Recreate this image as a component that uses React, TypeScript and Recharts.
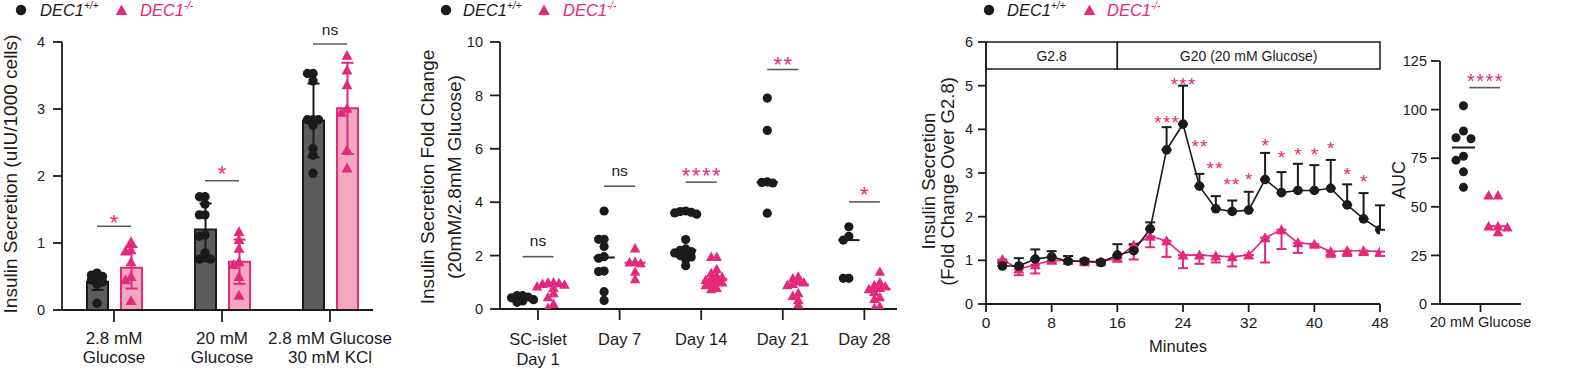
import React from 'react';
import {
  ComposedChart, Bar, Scatter, Line, XAxis, YAxis, ErrorBar,
  ReferenceLine, ReferenceDot, ReferenceArea,
} from 'recharts';

const INK = '#1b1b1b';
const PINK = '#E4287C';
const PINK_FILL = '#F4A8C0';
const GREY_FILL = '#5E5C5A';
const SIG = '#5c5c5c';
const FONT = '"Liberation Sans", Arial, Helvetica, sans-serif';

// ---------------- Panel A ----------------
const aCategories = ['2.8 mM|Glucose', '20 mM|Glucose', '2.8 mM Glucose|30 mM KCl'];
const aWtMean = [0.42, 1.2, 2.83];
const aWtSd = [0.12, 0.39, 0.55];
const aKoMean = [0.63, 0.72, 3.01];
const aKoSd = [0.31, 0.33, 0.68];
const aWtPoints = [
  [0.55, 0.52, 0.5, 0.48, 0.45, 0.42, 0.38, 0.1],
  [1.69, 1.69, 1.58, 1.42, 1.42, 1.12, 1.1, 0.85, 0.78, 0.76, 0.76],
  [3.53, 3.53, 3.42, 2.84, 2.84, 2.84, 2.76, 2.41, 2.31, 2.04],
];
const aKoPoints = [
  [1.02, 0.9, 0.88, 0.72, 0.5, 0.45, 0.14],
  [1.17, 1.05, 0.92, 0.72, 0.68, 0.5, 0.22],
  [3.8, 3.58, 3.36, 3.01, 2.95, 2.39, 2.12],
];
const aSigLevel = [1.25, 1.93, 3.97];
const aSigTextY = [1.39, 2.11, 4.2];
const aSigLabel = ['*', '*', 'ns'];
const aYTicks = [0, 1, 2, 3, 4];

// ---------------- Panel B ----------------
const bCategories = ['SC-islet|Day 1', 'Day 7', 'Day 14', 'Day 21', 'Day 28'];
const bWtPoints = [
  [0.5, 0.5, 0.45, 0.42, 0.35, 0.3, 0.25],
  [3.67, 2.61, 2.61, 2.34, 1.96, 1.9, 1.42, 1.4, 0.65, 0.32],
  [3.67, 3.65, 3.62, 3.6, 3.55, 2.6, 2.25, 2.2, 2.15, 2.1, 2.05, 2.0, 1.95, 1.85, 1.62],
  [7.9, 6.69, 4.76, 4.74, 4.72, 3.59],
  [3.08, 2.72, 2.58, 1.15, 1.15],
];
const bKoPoints = [
  [1.0, 1.0, 0.98, 0.95, 0.92, 0.85, 0.8, 0.6, 0.45, 0.2, 0.05],
  [2.28, 1.77, 1.75, 1.72, 1.4, 1.12],
  [1.96, 1.96, 1.5, 1.35, 1.25, 1.2, 1.15, 1.1, 1.05, 1.0, 0.95, 0.9, 0.8, 0.75],
  [1.22, 1.15, 1.05, 1.0, 0.95, 0.9, 0.6, 0.5, 0.35, 0.18],
  [1.4, 1.0, 0.9, 0.85, 0.8, 0.75, 0.65, 0.45, 0.38, 0.1, 0.05],
];
const bSigLevel = [1.96, 4.6, 4.75, 8.97, 4.01];
const bSigTextY = [2.59, 5.21, 5.19, 9.34, 4.5];
const bSigLabel = ['ns', 'ns', '****', '**', '*'];
const bYTicks = [0, 2, 4, 6, 8, 10];

// ---------------- Panel C ----------------
const cMinutes = [2, 4, 6, 8, 10, 12, 14, 16, 18, 20, 22, 24, 26, 28, 30, 32, 34, 36, 38, 40, 42, 44, 46, 48];
const cWtMean = [0.87, 0.87, 1.03, 1.08, 0.98, 0.98, 0.95, 1.12, 1.22, 1.72, 3.53, 4.12, 2.7, 2.18, 2.12, 2.15, 2.85, 2.55, 2.6, 2.6, 2.65, 2.27, 1.95, 1.7];
const cWtSem = [0.1, 0.18, 0.22, 0.13, 0.12, 0.05, 0.06, 0.25, 0.15, 0.15, 0.52, 0.88, 0.28, 0.29, 0.25, 0.42, 0.61, 0.47, 0.61, 0.58, 0.65, 0.47, 0.59, 0.56];
const cKoMean = [1.02, 0.8, 0.9, 1.0, 1.0, 0.97, 0.97, 1.05, 1.35, 1.55, 1.45, 1.12, 1.12, 1.1, 1.08, 1.12, 1.52, 1.7, 1.4, 1.37, 1.2, 1.22, 1.22, 1.2];
const cKoSem = [0.05, 0.14, 0.2, 0.05, 0.08, 0.05, 0.05, 0.07, 0.33, 0.25, 0.37, 0.3, 0.2, 0.15, 0.22, 0.0, 0.57, 0.44, 0.23, 0.05, 0.12, 0.12, 0.1, 0.1];
const cSigMinute = [22, 24, 26, 27.85, 29.9, 32, 34, 36, 38, 40, 42, 44, 46];
const cSigY = [4.26, 5.14, 3.7, 3.21, 2.85, 2.95, 3.74, 3.46, 3.52, 3.52, 3.67, 3.06, 2.92];
const cSigLabel = ['***', '***', '**', '**', '**', '*', '*', '*', '*', '*', '*', '*', '*'];
const cPhaseLabels = ['G2.8', 'G20 (20 mM Glucose)'];
const cPhaseStart = [0, 16];
const cPhaseEnd = [16, 48];
const cPhaseBottom = 5.38;
const cXTicks = [0, 8, 16, 24, 32, 40, 48];
const cYTicks = [0, 1, 2, 3, 4, 5, 6];

// ---------------- Panel D ----------------
const dCategory = '20 mM Glucose';
const dWt = [102, 89, 85.5, 85, 76, 74, 68, 60];
const dKo = [56, 56, 40, 40, 39.5, 37];
const dSigLevel = 111.3;
const dSigTextY = 117.3;
const dSigLabel = '****';
const dYTicks = [0, 25, 50, 75, 100, 125];

// ---------------- helpers ----------------
function swarm(values: number[], pxPerVal: number, minDist: number, step: number): number[] {
  const placed: { y: number; o: number }[] = [];
  return values.map((v) => {
    const y = v * pxPerVal;
    let chosen = 0;
    for (let k = 0; k < 40; k++) {
      const m = Math.ceil(k / 2);
      const cand = (k % 2 === 1 ? -m : m) * step;
      if (placed.every((p) => Math.hypot(p.o - cand, p.y - y) >= minDist)) {
        chosen = cand;
        break;
      }
    }
    placed.push({ y, o: chosen });
    return chosen;
  });
}

function median(vs: number[]) {
  const s = [...vs].sort((a, b) => a - b);
  const n = s.length;
  return n % 2 ? s[(n - 1) / 2] : (s[n / 2 - 1] + s[n / 2]) / 2;
}

function groupPoints(groups: number[][], groupOffset: number, pxPerVal: number, pxPerUnitX: number, minDist: number, step: number) {
  return groups.flatMap((vals, i) =>
    swarm(vals, pxPerVal, minDist, step).map((o, j) => ({ x: i + 0.5 + groupOffset + o / pxPerUnitX, y: vals[j] }))
  );
}

const dotShape = (r: number) => (p: any) => <circle cx={p.cx} cy={p.cy} r={r} fill={INK} />;
const triShape = (w: number) => (p: any) => {
  const h = w * 0.9;
  return (
    <polygon
      points={`${p.cx},${p.cy - h * 0.55} ${p.cx - w / 2},${p.cy + h * 0.45} ${p.cx + w / 2},${p.cy + h * 0.45}`}
      fill={PINK}
    />
  );
};

const sigText = (label: string, fs: number, starSpacing = 2.5) => (p: any) => {
  const star = label.includes('*');
  const ls = star ? starSpacing : 0;
  return (
    <text
      x={p.cx + ls / 2}
      y={p.cy + (star ? 0.58 : 0.27) * fs}
      textAnchor="middle"
      fontSize={star ? fs : 15.5}
      fill={star ? PINK : INK}
      letterSpacing={ls}
    >
      {label}
    </text>
  );
};

const makeCatTick = (getLabel: (v: any) => string, fs: number, first: number, gap: number) => (p: any) => {
  const lines = getLabel(p.payload.value).split('|');
  return (
    <text x={p.x} y={p.y} textAnchor="middle" fontSize={fs} fill={INK}>
      {lines.map((l, i) => (
        <tspan key={i} x={p.x} y={p.y + first + i * gap}>{l}</tspan>
      ))}
    </text>
  );
};

const axisStyle = { stroke: INK, strokeWidth: 1.8 };
const yTick = { fontSize: 14.5, fill: INK };

// ---------------- Panels ----------------
function PanelA() {
  const data = aCategories.map((name, i) => ({ name, wt: aWtMean[i], wtErr: aWtSd[i], ko: aKoMean[i], koErr: aKoSd[i] }));
  const pxPerUnitX = 108;
  const pxPerVal = 67;
  const off = 17 / 108;
  const wtPts = groupPoints(aWtPoints, -off, pxPerVal, pxPerUnitX, 4.5, 5.5);
  const koPts = groupPoints(aKoPoints, off, pxPerVal, pxPerUnitX, 4.5, 5.5);
  const pad = { left: -2, right: -11 };
  return (
    <ComposedChart width={400} height={370} data={data} margin={{ top: 42, right: 27, bottom: 0, left: 22 }} barSize={21} barGap={13}>
      <XAxis xAxisId="cat" dataKey="name" type="category" padding={pad} height={60} interval={0} tickSize={12} tickMargin={0}
        tick={makeCatTick((v) => String(v), 17, 21.7, 19.3)} axisLine={axisStyle} tickLine={axisStyle} />
      <XAxis xAxisId="num" dataKey="x" type="number" domain={[0, 3]} padding={pad} hide allowDataOverflow />
      <YAxis dataKey="y" type="number" domain={[0, 4]} ticks={aYTicks} allowDataOverflow width={40} tickSize={9} tickMargin={8}
        tick={yTick} axisLine={axisStyle} tickLine={axisStyle} />
      <Bar xAxisId="cat" dataKey="wt" fill={GREY_FILL} stroke={INK} strokeWidth={2} isAnimationActive={false}>
        <ErrorBar dataKey="wtErr" width={6} stroke={INK} strokeWidth={2} direction="y" />
      </Bar>
      <Bar xAxisId="cat" dataKey="ko" fill={PINK_FILL} stroke={PINK} strokeWidth={2} isAnimationActive={false}>
        <ErrorBar dataKey="koErr" width={6} stroke={PINK} strokeWidth={2} direction="y" />
      </Bar>
      <Scatter xAxisId="num" data={wtPts} dataKey="y" shape={dotShape(4.7)} isAnimationActive={false} />
      <Scatter xAxisId="num" data={koPts} dataKey="y" shape={triShape(11)} isAnimationActive={false} />
      {aSigLevel.map((lv, i) => (
        <ReferenceLine key={`l${i}`} xAxisId="num" ifOverflow="visible" stroke={SIG} strokeWidth={1.6}
          segment={[{ x: i + 0.5 - off, y: lv }, { x: i + 0.5 + off, y: lv }]} />
      ))}
      {aSigLabel.map((lb, i) => (
        <ReferenceDot key={`t${i}`} xAxisId="num" x={i + 0.5} y={aSigTextY[i]} r={0} ifOverflow="visible" shape={sigText(lb, 22)} />
      ))}
    </ComposedChart>
  );
}

function PanelB() {
  const pxPerUnitX = 81.6;
  const pxPerVal = 26.7;
  const off = 0.19;
  const wtPts = groupPoints(bWtPoints, -off, pxPerVal, pxPerUnitX, 4.5, 5.5);
  const koPts = groupPoints(bKoPoints, off, pxPerVal, pxPerUnitX, 4.5, 5.5);
  const ticks = bCategories.map((_, i) => i + 0.5);
  return (
    <ComposedChart width={530} height={370} margin={{ top: 42, right: 33, bottom: 0, left: 60 }}>
      <XAxis dataKey="x" type="number" domain={[0.034, 4.9]} ticks={ticks} allowDataOverflow height={61} interval={0} tickSize={11} tickMargin={0}
        tick={makeCatTick((v) => bCategories[Math.floor(Number(v))], 16.5, 25, 19.5)} axisLine={axisStyle} tickLine={axisStyle} />
      <YAxis dataKey="y" type="number" domain={[0, 10]} ticks={bYTicks} allowDataOverflow width={40} tickSize={10} tickMargin={7}
        tick={yTick} axisLine={axisStyle} tickLine={axisStyle} />
      {bWtPoints.map((vals, i) => (
        <ReferenceLine key={`mw${i}`} ifOverflow="visible" stroke={INK} strokeWidth={2}
          segment={[{ x: i + 0.5 - off - 0.13, y: median(vals) }, { x: i + 0.5 - off + 0.13, y: median(vals) }]} />
      ))}
      {bKoPoints.map((vals, i) => (
        <ReferenceLine key={`mk${i}`} ifOverflow="visible" stroke={PINK} strokeWidth={2}
          segment={[{ x: i + 0.5 + off - 0.13, y: median(vals) }, { x: i + 0.5 + off + 0.13, y: median(vals) }]} />
      ))}
      <Scatter data={wtPts} dataKey="y" shape={dotShape(4.6)} isAnimationActive={false} />
      <Scatter data={koPts} dataKey="y" shape={triShape(10.5)} isAnimationActive={false} />
      {bSigLevel.map((lv, i) => (
        <ReferenceLine key={`l${i}`} ifOverflow="visible" stroke={SIG} strokeWidth={1.6}
          segment={[{ x: i + 0.5 - 0.19, y: lv }, { x: i + 0.5 + 0.19, y: lv }]} />
      ))}
      {bSigLabel.map((lb, i) => (
        <ReferenceDot key={`t${i}`} x={i + 0.5} y={bSigTextY[i]} r={0} ifOverflow="visible" shape={sigText(lb, 22, 1.5)} />
      ))}
    </ComposedChart>
  );
}

const lineDot = (kind: 'dot' | 'tri') => (p: any) => {
  const k = `d${p.index}`;
  if (kind === 'dot') return <circle key={k} cx={p.cx} cy={p.cy} r={4.8} fill={INK} />;
  const w = 11;
  const h = 10;
  return (
    <polygon key={k} points={`${p.cx},${p.cy - h * 0.55} ${p.cx - w / 2},${p.cy + h * 0.45} ${p.cx + w / 2},${p.cy + h * 0.45}`} fill={PINK} />
  );
};

function PanelC() {
  const data = cMinutes.map((m, i) => ({
    minute: m,
    wt: cWtMean[i],
    wtErr: [0, cWtSem[i]],
    ko: cKoMean[i],
    koErr: [cKoSem[i], 0],
  }));
  return (
    <ComposedChart width={470} height={370} data={data} margin={{ top: 42, right: 20, bottom: 26, left: 16 }}>
      <XAxis dataKey="minute" type="number" domain={[0, 48]} ticks={cXTicks} allowDataOverflow height={40} tickSize={8} tickMargin={5}
        tick={{ fontSize: 15.5, fill: INK }} axisLine={axisStyle} tickLine={axisStyle} interval={0} />
      <YAxis type="number" domain={[0, 6]} ticks={cYTicks} allowDataOverflow width={40} tickSize={8} tickMargin={5}
        tick={yTick} axisLine={axisStyle} tickLine={axisStyle} />
      {cPhaseLabels.map((lb, i) => (
        <ReferenceArea key={`p${i}`} x1={cPhaseStart[i]} x2={cPhaseEnd[i]} y1={cPhaseBottom} y2={6} fill="#ffffff" fillOpacity={1}
          stroke={INK} strokeWidth={1.5} ifOverflow="visible"
          label={{ value: lb, position: 'center', fontSize: 14, fill: INK }} />
      ))}
      <Line dataKey="ko" type="linear" stroke={PINK} strokeWidth={1.6} dot={lineDot('tri')} activeDot={false} isAnimationActive={false}>
        <ErrorBar dataKey="koErr" width={5} stroke={PINK} strokeWidth={2} direction="y" />
      </Line>
      <Line dataKey="wt" type="linear" stroke={INK} strokeWidth={1.6} dot={lineDot('dot')} activeDot={false} isAnimationActive={false}>
        <ErrorBar dataKey="wtErr" width={5} stroke={INK} strokeWidth={2} direction="y" />
      </Line>
      {cSigLabel.map((lb, i) => (
        <ReferenceDot key={`s${i}`} x={cSigMinute[i]} y={cSigY[i]} r={0} ifOverflow="visible" shape={sigText(lb, 19, 1.2)} />
      ))}
    </ComposedChart>
  );
}

function PanelD() {
  const pxPerUnitX = 81;
  const pxPerVal = 243 / 125;
  const wtCenter = 0.29;
  const koCenter = 0.716;
  const wtPts = swarm(dWt, pxPerVal, 8, 7.5).map((o, j) => ({ x: wtCenter + o / pxPerUnitX, y: dWt[j] }));
  const koPts = swarm(dKo, pxPerVal, 5, 4.7).map((o, j) => ({ x: koCenter + o / pxPerUnitX, y: dKo[j] }));
  const mw = median(dWt);
  const mk = median(dKo);
  return (
    <ComposedChart width={210} height={370} margin={{ top: 61, right: 59, bottom: 26, left: 30 }}>
      <XAxis dataKey="x" type="number" domain={[0, 1]} ticks={[0.5]} allowDataOverflow height={40} tickSize={8} tickMargin={0}
        tick={makeCatTick(() => dCategory, 14.5, 14.7, 0)} axisLine={axisStyle} tickLine={axisStyle} interval={0} />
      <YAxis dataKey="y" type="number" domain={[0, 125]} ticks={dYTicks} allowDataOverflow width={40} tickSize={9} tickMargin={4}
        tick={yTick} axisLine={axisStyle} tickLine={axisStyle} />
      <ReferenceLine ifOverflow="visible" stroke={INK} strokeWidth={2}
        segment={[{ x: wtCenter - 0.143, y: mw }, { x: wtCenter + 0.143, y: mw }]} />
      <ReferenceLine ifOverflow="visible" stroke={PINK} strokeWidth={2}
        segment={[{ x: koCenter - 0.136, y: mk }, { x: koCenter + 0.136, y: mk }]} />
      <Scatter data={wtPts} dataKey="y" shape={dotShape(4.5)} isAnimationActive={false} />
      <Scatter data={koPts} dataKey="y" shape={triShape(10.5)} isAnimationActive={false} />
      <ReferenceLine ifOverflow="visible" stroke={SIG} strokeWidth={1.6}
        segment={[{ x: 0.363, y: dSigLevel }, { x: 0.741, y: dSigLevel }]} />
      <ReferenceDot x={0.552} y={dSigTextY} r={0} ifOverflow="visible" shape={sigText(dSigLabel, 20, 1.5)} />
    </ComposedChart>
  );
}

function LegendItems({ dotX, wtX, triX, koX }: { dotX: number; wtX: number; triX: number; koX: number }) {
  return (
    <g>
      <circle cx={dotX} cy={10} r={5.2} fill={INK} />
      <text x={wtX} y={15.5} fontSize={16.5} fontStyle="italic" fill={INK}>
        DEC1<tspan fontSize={10} dy={-6.5}>+/+</tspan>
      </text>
      <polygon points={`${triX},${4.5} ${triX - 5.8},${15} ${triX + 5.8},${15}`} fill={PINK} />
      <text x={koX} y={15.5} fontSize={16.5} fontStyle="italic" fill={PINK}>
        DEC1<tspan fontSize={10} dy={-6.5}>-/-</tspan>
      </text>
    </g>
  );
}

function VText({ x, y, fs, children }: { x: number; y: number; fs: number; children: React.ReactNode }) {
  return (
    <text transform={`translate(${x},${y}) rotate(-90)`} textAnchor="middle" fontSize={fs} fill={INK}>
      {children}
    </text>
  );
}

function Overlay() {
  return (
    <svg width={1580} height={370} style={{ position: 'absolute', left: 0, top: 0, pointerEvents: 'none', fontFamily: FONT }}>
      <LegendItems dotX={21} wtX={40} triX={121.5} koX={140} />
      <LegendItems dotX={446} wtX={463} triX={544} koX={563} />
      <LegendItems dotX={989} wtX={1007} triX={1089.5} koX={1107} />
      <VText x={17} y={174} fs={19}>Insulin Secretion (uIU/1000 cells)</VText>
      <VText x={434} y={177} fs={19}>Insulin Secretion Fold Change</VText>
      <VText x={460.5} y={177} fs={19}>(20mM/2.8mM Glucose)</VText>
      <VText x={935} y={181} fs={18.5}>Insulin Secretion</VText>
      <VText x={954} y={181.5} fs={18.5}>(Fold Change Over G2.8)</VText>
      <VText x={1405} y={180} fs={18}>AUC</VText>
      <text x={1178} y={352} textAnchor="middle" fontSize={16.5} fill={INK}>Minutes</text>
    </svg>
  );
}

export default function App() {
  return (
    <div style={{ position: 'absolute', left: 0, top: 0, width: 1580, height: 370, background: '#fff', fontFamily: FONT, overflow: 'hidden' }}>
      <div style={{ position: 'absolute', left: 0, top: 0 }}><PanelA /></div>
      <div style={{ position: 'absolute', left: 400, top: 0 }}><PanelB /></div>
      <div style={{ position: 'absolute', left: 930, top: 0 }}><PanelC /></div>
      <div style={{ position: 'absolute', left: 1370, top: 0 }}><PanelD /></div>
      <Overlay />
    </div>
  );
}
